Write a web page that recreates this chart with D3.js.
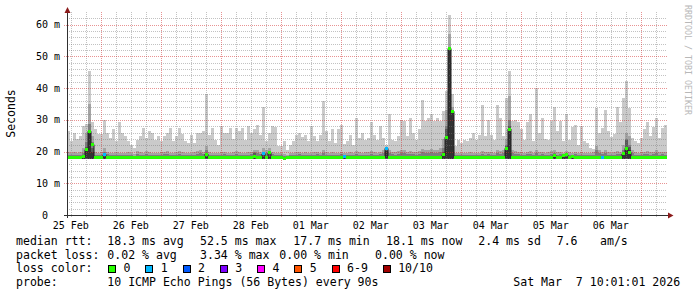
<!DOCTYPE html>
<html>
<head>
<meta charset="utf-8">
<script src="https://cdn.jsdelivr.net/npm/d3@7"></script>
<style>
  body { margin: 0; background: #fff; }
  text { font-family: "DejaVu Sans Mono", monospace; }
</style>
</head>
<body>
<svg id="chart" width="697" height="297"></svg>
<script>
// 10 days, 200 columns of 72 minutes each
const startTime = Date.UTC(2026, 1, 25, 10, 31)
const colMinutes = 72

// ping 10 of 10 (max rtt per column, ms)
const pingMax = [
  26.4, 23.2, 26.0, 24.0, 24.8, 28.0, 28.6, 45.4, 29.2, 27.0,
  25.5, 25.6, 30.0, 25.8, 24.3, 27.0, 23.2, 29.2, 26.0, 24.8,
  23.4, 22.2, 21.2, 23.8, 24.8, 27.4, 24.3, 26.4, 25.8, 23.8,
  24.8, 23.2, 24.8, 25.8, 27.4, 23.2, 24.8, 27.4, 25.5, 23.2,
  22.7, 25.3, 22.7, 25.8, 25.8, 26.4, 38.0, 25.3, 27.4, 23.8,
  22.2, 28.0, 26.0, 26.0, 27.4, 24.0, 27.4, 26.4, 27.4, 23.8,
  28.2, 26.0, 27.2, 28.5, 25.3, 34.0, 23.2, 25.8, 28.0, 27.6,
  21.7, 21.7, 23.2, 20.4, 22.2, 23.4, 25.3, 25.8, 24.5, 25.3,
  23.2, 28.0, 24.8, 23.2, 25.3, 35.9, 26.4, 23.2, 27.0, 22.7,
  27.0, 28.5, 22.4, 23.2, 25.3, 22.2, 30.6, 24.3, 25.8, 23.8,
  24.3, 29.2, 25.3, 23.8, 28.0, 24.3, 22.0, 31.9, 23.8, 23.2,
  25.0, 30.1, 29.6, 24.8, 30.6, 25.8, 23.8, 27.0, 36.4, 29.6,
  30.6, 31.7, 29.6, 30.6, 29.6, 32.7, 39.0, 63.2, 38.0, 21.7,
  23.8, 22.7, 23.8, 23.2, 24.3, 25.8, 23.8, 25.3, 34.8, 24.8,
  30.1, 25.3, 23.8, 34.8, 30.6, 24.8, 37.0, 45.4, 29.6, 30.1,
  29.2, 27.0, 23.8, 29.4, 31.7, 23.2, 40.0, 25.8, 30.6, 24.0,
  23.8, 29.6, 34.2, 26.4, 29.6, 23.2, 31.7, 23.8, 27.6, 28.5,
  22.2, 28.0, 23.2, 22.7, 21.2, 20.7, 33.8, 25.8, 27.4, 33.2,
  26.4, 24.5, 25.5, 34.2, 29.2, 37.0, 42.2, 33.8, 24.3, 23.2,
  22.7, 24.3, 27.0, 29.2, 24.8, 27.6, 30.6, 24.3, 27.4, 28.5
]
// ping 9 of 10
const ping9 = [
  19.8, 19.6, 20.0, 19.4, 19.8, 21.0, 26.0, 35.0, 25.0, 19.8,
  19.4, 19.8, 21.0, 20.0, 19.6, 19.4, 19.8, 19.6, 19.4, 19.6,
  19.8, 19.4, 19.2, 20.2, 20.0, 19.6, 20.2, 19.8, 19.6, 19.4,
  19.6, 19.8, 20.0, 20.2, 19.6, 19.4, 20.0, 20.2, 19.8, 19.4,
  19.6, 19.4, 19.8, 20.2, 20.4, 20.0, 21.6, 19.8, 19.6, 19.4,
  19.6, 19.8, 20.0, 19.6, 19.4, 19.8, 20.2, 19.8, 19.6, 19.4,
  19.8, 20.0, 20.6, 20.4, 20.0, 21.0, 20.6, 21.2, 20.0, 19.6,
  19.4, 19.6, 19.2, 19.0, 19.4, 19.6, 19.8, 20.0, 19.6, 19.8,
  19.4, 19.6, 19.8, 20.0, 19.6, 20.4, 19.8, 19.6, 19.8, 19.4,
  19.6, 20.0, 19.4, 19.6, 19.8, 19.4, 20.2, 19.8, 19.6, 19.8,
  19.8, 20.2, 19.8, 19.6, 20.0, 20.4, 21.2, 20.6, 20.0, 19.8,
  20.2, 20.4, 20.6, 20.0, 20.2, 20.0, 19.8, 20.2, 20.8, 20.4,
  20.6, 20.8, 20.4, 20.6, 21.0, 24.0, 33.0, 57.0, 34.0, 19.6,
  19.4, 19.6, 19.4, 19.6, 19.8, 19.6, 19.4, 19.6, 20.2, 19.8,
  20.0, 19.8, 19.6, 20.4, 20.2, 20.6, 24.0, 37.5, 20.6, 20.2,
  20.0, 19.8, 19.6, 20.0, 20.2, 19.6, 20.4, 19.8, 20.0, 19.6,
  19.8, 20.2, 20.4, 19.8, 20.0, 19.6, 20.2, 19.8, 19.6, 20.0,
  19.6, 19.8, 19.6, 19.4, 19.6, 19.8, 21.6, 20.6, 20.0, 20.4,
  19.8, 19.6, 19.8, 20.2, 20.0, 22.0, 26.0, 25.0, 20.6, 19.8,
  19.6, 19.8, 20.0, 20.2, 19.8, 20.0, 20.4, 19.8, 20.0, 19.8
]
// ping 8 of 10
const ping8 = [
  18.9, 18.8, 19.0, 18.8, 19.0, 19.6, 23.0, 28.6, 23.0, 19.0,
  18.8, 19.0, 19.8, 19.2, 18.9, 18.8, 19.0, 18.9, 18.8, 18.9,
  19.0, 18.8, 18.7, 19.2, 19.0, 18.9, 19.2, 19.0, 18.9, 18.8,
  18.9, 19.0, 19.1, 19.2, 18.9, 18.8, 19.0, 19.2, 19.0, 18.8,
  18.9, 18.8, 19.0, 19.3, 19.4, 19.2, 20.4, 19.0, 18.9, 18.8,
  18.9, 19.0, 19.1, 18.9, 18.8, 19.0, 19.2, 19.0, 18.9, 18.8,
  19.0, 19.1, 19.8, 19.6, 19.2, 20.0, 19.6, 20.2, 19.2, 18.9,
  18.8, 18.9, 18.7, 18.6, 18.8, 18.9, 19.0, 19.1, 18.9, 19.0,
  18.8, 18.9, 19.0, 19.1, 18.9, 19.4, 19.0, 18.9, 19.0, 18.8,
  18.9, 19.1, 18.8, 18.9, 19.0, 18.8, 19.3, 19.0, 18.9, 19.0,
  19.0, 19.3, 19.0, 18.9, 19.1, 19.4, 21.0, 19.6, 19.1, 19.0,
  19.3, 19.4, 19.6, 19.1, 19.3, 19.1, 19.0, 19.3, 19.8, 19.4,
  19.6, 19.8, 19.4, 19.6, 20.0, 21.0, 28.0, 53.0, 33.0, 18.9,
  18.8, 18.9, 18.8, 18.9, 19.0, 18.9, 18.8, 18.9, 19.3, 19.0,
  19.1, 19.0, 18.9, 19.4, 19.3, 19.6, 22.0, 30.0, 19.6, 19.3,
  19.1, 19.0, 18.9, 19.1, 19.3, 18.9, 19.4, 19.0, 19.1, 18.9,
  19.0, 19.3, 19.4, 19.0, 19.1, 18.9, 19.3, 19.0, 18.9, 19.1,
  18.9, 19.0, 18.9, 18.8, 18.9, 19.0, 20.6, 19.6, 19.1, 19.4,
  19.0, 18.9, 19.0, 19.3, 19.1, 20.4, 24.0, 22.0, 19.6, 19.0,
  18.9, 19.0, 19.1, 19.3, 19.0, 19.1, 19.4, 19.0, 19.1, 19.0
]
// ping 7 of 10
const ping7 = [
  18.5, 18.5, 18.5, 18.5, 18.5, 19.0, 21.5, 26.8, 21.0, 18.5,
  18.5, 18.5, 19.4, 18.5, 18.5, 18.5, 18.5, 18.5, 18.5, 18.5,
  18.5, 18.5, 18.5, 18.5, 18.5, 18.5, 18.5, 18.5, 18.5, 18.5,
  18.5, 18.5, 18.5, 18.5, 18.5, 18.5, 18.5, 18.5, 18.5, 18.5,
  18.5, 18.5, 18.5, 18.5, 18.5, 18.5, 19.6, 18.5, 18.5, 18.5,
  18.5, 18.5, 18.5, 18.5, 18.5, 18.5, 18.5, 18.5, 18.5, 18.5,
  18.5, 18.5, 19.4, 18.5, 18.5, 19.4, 18.5, 19.8, 18.5, 18.5,
  18.5, 18.5, 18.2, 18.5, 18.5, 18.5, 18.5, 18.5, 18.5, 18.5,
  18.5, 18.5, 18.5, 18.5, 18.5, 18.5, 18.5, 18.5, 18.5, 18.5,
  18.5, 18.5, 18.5, 18.5, 18.5, 18.5, 18.5, 18.5, 18.5, 18.5,
  18.5, 18.5, 18.5, 18.5, 18.5, 18.5, 20.6, 18.5, 18.5, 18.5,
  18.5, 18.5, 18.5, 18.5, 18.5, 18.5, 18.5, 18.5, 18.5, 18.5,
  18.5, 18.5, 18.5, 18.5, 18.5, 19.8, 27.0, 52.8, 32.9, 18.5,
  18.5, 18.5, 18.5, 18.5, 18.5, 18.5, 18.5, 18.5, 18.5, 18.5,
  18.5, 18.5, 18.5, 18.5, 18.5, 18.5, 21.6, 28.0, 18.5, 18.5,
  18.5, 18.5, 18.5, 18.5, 18.5, 18.5, 18.5, 18.5, 18.5, 18.5,
  18.5, 18.5, 18.5, 18.5, 18.5, 18.5, 18.5, 18.5, 18.5, 18.5,
  18.5, 18.5, 18.5, 18.5, 18.5, 18.5, 18.5, 18.5, 18.5, 18.5,
  18.5, 18.5, 18.5, 18.5, 18.5, 20.0, 23.5, 21.5, 18.5, 18.5,
  18.5, 18.5, 18.5, 18.5, 18.5, 18.5, 18.5, 18.5, 18.5, 18.5
]
// ping 6 of 10
const ping6 = [
  18.3, 18.3, 18.3, 18.3, 18.3, 18.3, 20.8, 26.0, 20.0, 18.3,
  18.3, 18.3, 18.3, 18.3, 18.3, 18.3, 18.3, 18.3, 18.3, 18.3,
  18.3, 18.3, 18.3, 18.3, 18.3, 18.3, 18.3, 18.3, 18.3, 18.3,
  18.3, 18.3, 18.3, 18.3, 18.3, 18.3, 18.3, 18.3, 18.3, 18.3,
  18.3, 18.3, 18.3, 18.3, 18.3, 18.3, 18.3, 18.3, 18.3, 18.3,
  18.3, 18.3, 18.3, 18.3, 18.3, 18.3, 18.3, 18.3, 18.3, 18.3,
  18.3, 18.3, 18.3, 18.3, 18.3, 18.3, 18.3, 18.3, 18.3, 18.3,
  18.3, 18.3, 18.0, 18.3, 18.3, 18.3, 18.3, 18.3, 18.3, 18.3,
  18.3, 18.3, 18.3, 18.3, 18.3, 18.3, 18.3, 18.3, 18.3, 18.3,
  18.3, 18.3, 18.3, 18.3, 18.3, 18.3, 18.3, 18.3, 18.3, 18.3,
  18.3, 18.3, 18.3, 18.3, 18.3, 18.3, 20.2, 18.3, 18.3, 18.3,
  18.3, 18.3, 18.3, 18.3, 18.3, 18.3, 18.3, 18.3, 18.3, 18.3,
  18.3, 18.3, 18.3, 18.3, 18.3, 19.0, 24.5, 52.0, 32.5, 18.3,
  18.3, 18.3, 18.3, 18.3, 18.3, 18.3, 18.3, 18.3, 18.3, 18.3,
  18.3, 18.3, 18.3, 18.3, 18.3, 18.3, 21.0, 27.0, 18.3, 18.3,
  18.3, 18.3, 18.3, 18.3, 18.3, 18.3, 18.3, 18.3, 18.3, 18.3,
  18.3, 18.3, 18.3, 18.3, 18.3, 18.3, 18.3, 18.3, 18.3, 18.3,
  18.3, 18.3, 18.3, 18.3, 18.3, 18.3, 18.3, 18.3, 18.3, 18.3,
  18.3, 18.3, 18.3, 18.3, 18.3, 19.3, 21.5, 20.5, 18.3, 18.3,
  18.3, 18.3, 18.3, 18.3, 18.3, 18.3, 18.3, 18.3, 18.3, 18.3
]
// median rtt
const median = [
  18.2, 18.2, 18.2, 18.2, 18.2, 18.3, 20.6, 26.4, 22.2, 18.2,
  18.2, 18.2, 19.0, 18.2, 18.2, 18.2, 18.2, 18.2, 18.2, 18.2,
  18.2, 18.2, 18.2, 18.2, 18.2, 18.2, 18.2, 18.2, 18.2, 18.2,
  18.2, 18.2, 18.2, 18.2, 18.2, 18.2, 18.2, 18.2, 18.2, 18.2,
  18.2, 18.2, 18.2, 18.2, 18.2, 18.2, 19.2, 18.2, 18.2, 18.2,
  18.2, 18.2, 18.2, 18.2, 18.2, 18.2, 18.2, 18.2, 18.2, 18.2,
  18.2, 18.2, 18.6, 18.2, 18.2, 19.3, 18.2, 19.6, 18.2, 18.2,
  18.2, 18.2, 17.7, 18.2, 18.2, 18.2, 18.2, 18.2, 18.2, 18.2,
  18.2, 18.2, 18.2, 18.2, 18.2, 18.2, 18.2, 18.2, 18.2, 18.2,
  18.2, 18.2, 18.3, 18.2, 18.2, 18.2, 18.2, 18.2, 18.2, 18.2,
  18.2, 18.2, 18.2, 18.2, 18.2, 18.2, 21.0, 18.2, 18.2, 18.2,
  18.2, 18.2, 18.2, 18.2, 18.2, 18.2, 18.2, 18.2, 18.2, 18.2,
  18.2, 18.2, 18.2, 18.2, 18.2, 19.0, 24.5, 52.5, 32.7, 18.2,
  18.2, 18.2, 18.2, 18.2, 18.2, 18.2, 18.2, 18.2, 18.2, 18.2,
  18.2, 18.2, 18.2, 18.2, 18.2, 18.2, 21.0, 27.1, 18.2, 18.2,
  18.2, 18.2, 18.2, 18.2, 18.2, 18.2, 18.2, 18.2, 18.2, 18.2,
  18.2, 18.2, 18.8, 18.2, 18.2, 18.7, 19.0, 18.2, 18.3, 18.2,
  18.2, 18.2, 18.2, 18.2, 18.2, 18.2, 18.2, 18.2, 18.2, 18.2,
  18.2, 18.2, 18.2, 18.2, 18.2, 19.3, 21.0, 19.8, 18.2, 18.2,
  18.2, 18.2, 18.2, 18.2, 18.2, 18.2, 18.2, 18.2, 18.2, 18.2
]
// lost pings out of 10 per column
const lossCount = [
  0, 0, 0, 0, 0, 0, 0, 0, 0, 0,  0, 0, 1, 0, 0, 0, 0, 0, 0, 0,
  0, 0, 0, 0, 0, 0, 0, 0, 0, 0,  0, 0, 0, 0, 0, 0, 0, 0, 0, 0,
  0, 0, 0, 0, 0, 0, 0, 0, 0, 0,  0, 0, 0, 0, 0, 0, 0, 0, 0, 0,
  0, 0, 0, 0, 0, 1, 0, 0, 0, 0,  0, 0, 0, 0, 0, 0, 0, 0, 0, 0,
  0, 0, 0, 0, 0, 0, 0, 0, 0, 0,  0, 0, 1, 0, 0, 0, 0, 0, 0, 0,
  0, 0, 0, 0, 0, 0, 1, 0, 0, 0,  0, 0, 0, 0, 0, 0, 0, 0, 0, 0,
  0, 0, 0, 0, 0, 0, 0, 0, 0, 0,  0, 0, 0, 0, 0, 0, 0, 0, 0, 0,
  0, 0, 0, 0, 0, 0, 0, 0, 0, 0,  0, 0, 0, 0, 0, 0, 0, 0, 0, 0,
  0, 0, 0, 0, 0, 0, 0, 0, 0, 0,  0, 0, 0, 0, 0, 0, 0, 0, 1, 0,
  0, 0, 0, 0, 0, 0, 0, 0, 0, 0,  0, 0, 0, 0, 0, 0, 0, 0, 0, 0
]
const pingFloor = 17.6

const smokeColors = ["#cacaca", "#a4a4a4", "#7e7e7e", "#585858", "#323232"]
const lossLabels = ["0", "1", "2", "3", "4", "5", "6-9", "10/10"]
const lossColors = ["#26ff00", "#00b8ff", "#0059ff", "#7e00ff", "#ff00ff", "#ff5500", "#ff0000", "#a00000"]

const yTicks = [0, 10, 20, 30, 40, 50, 60]

const rttLegend = ["median rtt:", "18.3 ms avg", "52.5 ms max", "17.7 ms min", "18.1 ms now", "2.4 ms sd", "7.6", "am/s"]
const lossLegend = ["packet loss:", "0.02 % avg", "3.34 % max", "0.00 % min", "0.00 % now"]
const probeLegend = ["probe:", "10 ICMP Echo Pings (56 Bytes) every 90s", "Sat Mar  7 10:01:01 2026"]

// layout
const plotLeft = 67, plotRight = 667, plotTop = 12, plotBottom = 215
const charW = 6.95
const gridMinor = "rgba(120,120,120,0.45)"
const gridMajor = "rgba(210,40,40,0.5)"

const svg = d3.select("#chart")

const endTime = startTime + pingMax.length * colMinutes * 60000
const x = d3.scaleUtc().domain([new Date(startTime), new Date(endTime)]).range([plotLeft, plotRight])
const y = d3.scaleLinear().domain([0, 64]).range([plotBottom, plotTop])

const cols = pingMax.map((v, i) => ({
    t0: new Date(startTime + i * colMinutes * 60000),
    t1: new Date(startTime + (i + 1) * colMinutes * 60000),
    layers: [v, ping9[i], ping8[i], ping7[i], ping6[i]],
    med: median[i],
    loss: lossCount[i]
}))

function lossColor(n) {
    if (n <= 5) return lossColors[n]
    if (n < 10) return lossColors[6]
    return lossColors[7]
}

// smoke
smokeColors.forEach(function (c, k) {
    svg.append("g")
        .attr("shape-rendering", "crispEdges")
        .selectAll("rect")
        .data(cols)
        .join("rect")
        .attr("x", d => x(d.t0))
        .attr("width", d => x(d.t1) - x(d.t0))
        .attr("y", d => y(d.layers[k]))
        .attr("height", d => y(pingFloor) - y(d.layers[k]))
        .attr("fill", c)
})

// grid (drawn over the smoke, like rrdtool)
const grid = svg.append("g").attr("shape-rendering", "crispEdges")
const minorY = d3.range(2, 64, 2).filter(v => v % 10 !== 0)
const majorY = yTicks.filter(v => v > 0)
const majorX = d3.utcDay.range(x.domain()[0], x.domain()[1])
const minorX = d3.utcHour.every(6).range(x.domain()[0], x.domain()[1]).filter(d => d.getUTCHours() !== 0)

grid.selectAll(".hmin").data(minorY).join("line")
    .attr("x1", plotLeft).attr("x2", plotRight)
    .attr("y1", d => Math.round(y(d)) + 0.5).attr("y2", d => Math.round(y(d)) + 0.5)
    .attr("stroke", gridMinor).attr("stroke-dasharray", "1,1")
grid.selectAll(".vmin").data(minorX).join("line")
    .attr("x1", d => Math.round(x(d)) + 0.5).attr("x2", d => Math.round(x(d)) + 0.5)
    .attr("y1", plotTop).attr("y2", plotBottom + 2)
    .attr("stroke", gridMinor).attr("stroke-dasharray", "1,1")
grid.selectAll(".hmaj").data(majorY).join("line")
    .attr("x1", plotLeft - 3).attr("x2", plotRight)
    .attr("y1", d => Math.round(y(d)) + 0.5).attr("y2", d => Math.round(y(d)) + 0.5)
    .attr("stroke", gridMajor).attr("stroke-dasharray", "1,1")
grid.selectAll(".vmaj").data(majorX).join("line")
    .attr("x1", d => Math.round(x(d)) + 0.5).attr("x2", d => Math.round(x(d)) + 0.5)
    .attr("y1", plotTop).attr("y2", plotBottom + 3)
    .attr("stroke", gridMajor).attr("stroke-dasharray", "1,1")

// median line
const medPts = cols.map(d => [x(d.t0), y(d.med)])
medPts.push([x(cols[cols.length - 1].t1), y(cols[cols.length - 1].med)])
svg.append("path")
    .attr("d", d3.line().curve(d3.curveStepAfter)(medPts))
    .attr("fill", "none")
    .attr("stroke", "#202020")
    .attr("stroke-width", 1)

svg.append("g")
    .attr("shape-rendering", "crispEdges")
    .selectAll("rect")
    .data(cols)
    .join("rect")
    .attr("x", d => x(d.t0))
    .attr("width", d => x(d.t1) - x(d.t0))
    .attr("y", d => y(d.med) - 1.5)
    .attr("height", 3)
    .attr("fill", d => lossColor(d.loss))

// axes
const axis = svg.append("g").attr("shape-rendering", "crispEdges")
axis.append("line").attr("x1", plotLeft - 3).attr("x2", plotRight + 2)
    .attr("y1", plotBottom + 0.5).attr("y2", plotBottom + 0.5).attr("stroke", "#303030")
axis.append("line").attr("x1", plotLeft + 0.5).attr("x2", plotLeft + 0.5)
    .attr("y1", plotBottom + 3).attr("y2", plotTop - 2).attr("stroke", "#303030")
svg.append("path")
    .attr("d", `M${plotRight + 1},${plotBottom - 2.5}L${plotRight + 6.5},${plotBottom + 0.5}L${plotRight + 1},${plotBottom + 3.5}Z`)
    .attr("fill", "#8b1a1a")
svg.append("path")
    .attr("d", `M${plotLeft - 2.5},${plotTop + 1}L${plotLeft + 0.5},${plotTop - 5}L${plotLeft + 3.5},${plotTop + 1}Z`)
    .attr("fill", "#8b1a1a")

// y labels
svg.append("g").selectAll("text").data(yTicks).join("text")
    .attr("x", d => d === 0 ? 48 : 60)
    .attr("y", d => y(d) + 3.5)
    .attr("text-anchor", "end")
    .attr("font-size", "10px")
    .attr("fill", "#000")
    .text(d => d === 0 ? "0" : d + " m")

// x labels at noon
const noons = d3.utcDay.range(d3.utcDay.floor(x.domain()[0]), x.domain()[1])
    .map(d => d3.utcHour.offset(d, 12))
    .filter(d => d >= x.domain()[0] && d <= x.domain()[1])
svg.append("g").selectAll("text").data(noons).join("text")
    .attr("x", d => x(d))
    .attr("y", 228.5)
    .attr("text-anchor", "middle")
    .attr("font-size", "10px")
    .attr("fill", "#000")
    .text(d => d3.utcFormat("%d %b")(d))

// titles
svg.append("text")
    .attr("transform", "translate(15.3,113.5) rotate(-90)")
    .attr("text-anchor", "middle")
    .attr("font-size", "11.5px")
    .text("Seconds")
svg.append("text")
    .attr("transform", "translate(684.5,5) rotate(90)")
    .attr("font-size", "8.3px")
    .attr("fill", "#b8b8b8")
    .text("RRDTOOL / TOBI OETIKER")

// legend
const legendFont = "11.55px"
const rttX = [16, 107.3, 200, 293.3, 386, 478.3, 556.7, 600]
const lossX = [16, 107.3, 200, 279.3, 375]
const probeX = [16, 107.3, 513.3]

function legendRow(items, xs, yy) {
    svg.append("g").selectAll("text").data(items).join("text")
        .attr("x", (d, i) => xs[i])
        .attr("y", yy)
        .attr("font-size", legendFont)
        .attr("fill", "#000")
        .style("white-space", "pre")
        .text(d => d)
}
legendRow(rttLegend, rttX, 245)
legendRow(lossLegend, lossX, 258.6)
legendRow(probeLegend, probeX, 286)

svg.append("text").attr("x", 16).attr("y", 272.3).attr("font-size", legendFont).text("loss color:")
let lx = 108.5
lossLabels.forEach(function (lab, i) {
    svg.append("rect")
        .attr("x", lx).attr("y", 265.5).attr("width", 7).attr("height", 7)
        .attr("fill", lossColors[i]).attr("stroke", "#000").attr("stroke-width", 1)
        .attr("shape-rendering", "crispEdges")
    svg.append("text").attr("x", lx + 15).attr("y", 272.3)
        .attr("font-size", legendFont).text(lab)
    lx += 15 + lab.length * charW + 15.3
})
</script>
</body>
</html>
